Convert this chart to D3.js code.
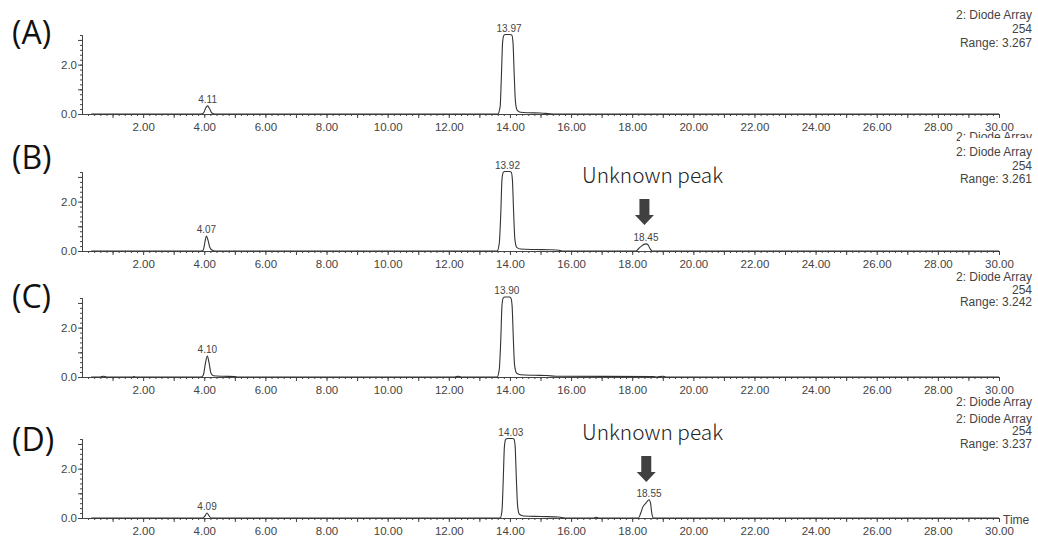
<!DOCTYPE html>
<html>
<head>
<meta charset="utf-8">
<script src="https://cdn.jsdelivr.net/npm/d3@7"></script>
<style>
    body { margin: 0; background: #fff; }
    svg { display: block; }
</style>
</head>
<body>
<svg></svg>
<script>
// chromatogram traces, [time (min), absorbance]
const traceA = [
    [0.3, 0], [3.9, 0], [3.98, 0.05], [4.05, 0.25], [4.11, 0.33], [4.18, 0.2], [4.25, 0.04], [4.35, 0],
    [13.6, 0], [13.68, 0.3], [13.72, 1.5], [13.76, 2.9], [13.8, 3.18], [13.85, 3.22], [14.0, 3.22],
    [14.06, 3.2], [14.1, 2.9], [14.14, 1.6], [14.18, 0.5], [14.24, 0.15], [14.35, 0.07], [14.6, 0.05],
    [15.0, 0.04], [15.3, 0.01], [15.5, 0], [30, 0]
];
const traceB = [
    [0.3, 0], [3.9, 0], [3.97, 0.05], [4.02, 0.35], [4.07, 0.61], [4.12, 0.45], [4.18, 0.15], [4.25, 0.04], [4.35, 0],
    [13.58, 0], [13.65, 0.3], [13.7, 1.5], [13.74, 2.9], [13.78, 3.18], [13.83, 3.22], [13.98, 3.22],
    [14.04, 3.2], [14.08, 2.9], [14.12, 1.6], [14.16, 0.5], [14.22, 0.15], [14.35, 0.08], [14.8, 0.06],
    [15.3, 0.05], [15.6, 0.03], [15.7, 0],
    [18.12, 0], [18.2, 0.08], [18.3, 0.2], [18.45, 0.29], [18.52, 0.25], [18.58, 0.1], [18.65, 0], [30, 0]
];
const traceC = [
    [0.3, 0], [0.6, 0], [0.7, 0.03], [0.8, 0], [1.65, 0], [1.7, 0.02], [1.75, 0],
    [3.9, 0], [3.97, 0.08], [4.03, 0.5], [4.1, 0.85], [4.16, 0.55], [4.22, 0.15], [4.3, 0.05], [4.6, 0.03], [5.0, 0.02], [5.1, 0],
    [12.2, 0], [12.3, 0.03], [12.4, 0],
    [13.58, 0], [13.65, 0.3], [13.7, 1.5], [13.74, 2.9], [13.78, 3.2], [13.83, 3.24], [13.98, 3.24],
    [14.03, 3.2], [14.07, 2.9], [14.11, 1.6], [14.15, 0.5], [14.22, 0.15], [14.35, 0.09], [14.8, 0.07],
    [15.2, 0.06], [15.5, 0.03], [18.7, 0.02], [18.8, 0], [19.0, 0.03], [19.1, 0], [30, 0]
];
const traceD = [
    [0.3, 0], [3.95, 0], [4.02, 0.08], [4.09, 0.2], [4.15, 0.1], [4.22, 0],
    [13.68, 0], [13.74, 0.3], [13.78, 1.5], [13.82, 2.9], [13.86, 3.18], [13.92, 3.22], [14.08, 3.22],
    [14.13, 3.2], [14.17, 2.9], [14.21, 1.6], [14.25, 0.5], [14.31, 0.15], [14.45, 0.08], [15.0, 0.06],
    [15.6, 0.04], [15.8, 0],
    [16.75, 0], [16.8, 0.03], [16.9, 0],
    [18.2, 0], [18.28, 0.2], [18.35, 0.45], [18.45, 0.6], [18.55, 0.74], [18.6, 0.6], [18.64, 0.2], [18.7, 0], [30, 0]
];

const panelNames = ["(A)", "(B)", "(C)", "(D)"];
const traces = [traceA, traceB, traceC, traceD];
const peakTimes = [[4.11, 13.97], [4.07, 13.92, 18.45], [4.10, 13.90], [4.09, 14.03, 18.55]];
const ranges = ["3.267", "3.261", "3.242", "3.237"];
const wavelength = "254";
const detector = "2: Diode Array";
// unknown peak annotations: panel index, arrow time, arrow tip (absorbance)
const unknownPanels = [1, 3];
const unknownTimes = [18.40, 18.46];
const unknownTips = [1.05, 1.46];

const xTicksMajor = d3.range(2, 31, 2);
const yTicksMajor = [0, 2];

// layout
const width = 1038;
const height = 538;
const panelBase = [114, 251, 377, 518];
const panelHeight = 79;
const headerY = [15, 152, 277, 418.5];
const headerGap = [14, 13.5, 12.5, 12.5];
const nameY = [44, 169, 308, 451];

let svg = d3.select("svg").attr("width", width).attr("height", height);

const ink = "#444";
const x = d3.scaleLinear().domain([0, 30]).range([82, 999]);

traces.forEach((trace, i) => drawPanel(trace, i));
drawUnknown();

// extra detector captions left over from the original export
svg.append("text")
    .attr("x", 1032).attr("y", 141)
    .attr("text-anchor", "end")
    .style("font", "12px 'Liberation Sans', Arial, sans-serif")
    .style("fill", ink)
    .text(detector);
svg.append("rect")
    .attr("x", 960).attr("y", 138).attr("width", 78).attr("height", 8)
    .style("fill", "#fff");
svg.append("text")
    .attr("x", 1032).attr("y", 406)
    .attr("text-anchor", "end")
    .style("font", "12px 'Liberation Sans', Arial, sans-serif")
    .style("fill", ink)
    .text(detector);

svg.append("text")
    .attr("x", 1003).attr("y", 524)
    .style("font", "12px 'Liberation Sans', Arial, sans-serif")
    .style("fill", ink)
    .text("Time");

function drawPanel(trace, i) {
    const base = panelBase[i];
    const y = d3.scaleLinear().domain([0, 3.2]).range([base, base - panelHeight]);
    let g = svg.append("g");

    // x axis: minor, odd-integer and labelled ticks
    let axisMinor = d3.axisBottom(x)
        .tickValues(d3.range(0.2, 30.01, 0.2))
        .tickSize(2).tickSizeOuter(0).tickFormat("");
    let axisMid = d3.axisBottom(x)
        .tickValues(d3.range(1, 30, 2))
        .tickSize(4).tickSizeOuter(0).tickFormat("");
    let axisMajor = d3.axisBottom(x)
        .tickValues(xTicksMajor)
        .tickSize(4).tickSizeOuter(0).tickPadding(5)
        .tickFormat(d3.format(".2f"));
    [axisMinor, axisMid, axisMajor].forEach((ax) => {
        g.append("g")
            .attr("class", "xaxis")
            .attr("transform", `translate(0, ${base})`)
            .call(ax);
    });

    // y axis
    let yMinor = d3.axisLeft(y)
        .tickValues(d3.range(0.2, 3.21, 0.2))
        .tickSize(2).tickSizeOuter(0).tickFormat("");
    let yMid = d3.axisLeft(y)
        .tickValues([1, 3])
        .tickSize(4).tickSizeOuter(0).tickFormat("");
    let yMajor = d3.axisLeft(y)
        .tickValues(yTicksMajor)
        .tickSize(4).tickSizeOuter(0).tickPadding(1)
        .tickFormat(d3.format(".1f"));
    [yMinor, yMid, yMajor].forEach((ax) => {
        g.append("g")
            .attr("transform", `translate(${x(0)}, 0)`)
            .call(ax);
    });

    g.selectAll(".domain, .tick line").style("stroke", ink).style("stroke-width", 1);
    g.selectAll(".tick text")
        .style("font", "11.5px 'Liberation Sans', Arial, sans-serif")
        .style("fill", ink);

    // trace
    let line = d3.line()
        .x((d) => x(d[0]))
        .y((d) => y(d[1]))
        .curve(d3.curveMonotoneX);
    g.append("path")
        .datum(trace)
        .attr("d", line)
        .style("fill", "none")
        .style("stroke", "#333")
        .style("stroke-width", 1.1);

    // retention time labels
    peakTimes[i].forEach((t) => {
        let near = trace.filter((d) => Math.abs(d[0] - t) < 0.3);
        let top = d3.max(near, (d) => d[1]);
        g.append("text")
            .attr("x", x(t))
            .attr("y", y(top) - 3)
            .attr("text-anchor", "middle")
            .style("font", "10px 'Liberation Sans', Arial, sans-serif")
            .style("fill", ink)
            .text(t.toFixed(2));
    });

    // panel letter
    g.append("text")
        .attr("x", 12).attr("y", nameY[i])
        .style("font", "32px 'Open Sans', 'Noto Sans', sans-serif")
        .style("fill", "#111")
        .text(panelNames[i]);

    // detector header
    [detector, wavelength, "Range: " + ranges[i]].forEach((s, k) => {
        g.append("text")
            .attr("x", 1032)
            .attr("y", headerY[i] + 4 + k * headerGap[i])
            .attr("text-anchor", "end")
            .style("font", "12px 'Liberation Sans', Arial, sans-serif")
            .style("fill", ink)
            .text(s);
    });
}

function drawUnknown() {
    unknownPanels.forEach((p, k) => {
        const base = panelBase[p];
        const y = d3.scaleLinear().domain([0, 3.2]).range([base, base - panelHeight]);
        const cx = x(unknownTimes[k]);
        const tip = y(unknownTips[k]);
        const top = tip - 26;
        let pts = [
            [cx - 5, top], [cx + 5, top], [cx + 5, tip - 10], [cx + 9.5, tip - 10],
            [cx, tip], [cx - 9.5, tip - 10], [cx - 5, tip - 10]
        ];
        svg.append("path")
            .attr("d", d3.line()(pts) + "Z")
            .style("fill", "#404040");
        svg.append("text")
            .attr("x", 582)
            .attr("y", top - 16)
            .attr("textLength", 141)
            .attr("lengthAdjust", "spacingAndGlyphs")
            .style("font", "300 21px 'Noto Sans CJK KR', 'Noto Sans', sans-serif")
            .style("fill", "#222")
            .text("Unknown peak");
    });
}
</script>
</body>
</html>
